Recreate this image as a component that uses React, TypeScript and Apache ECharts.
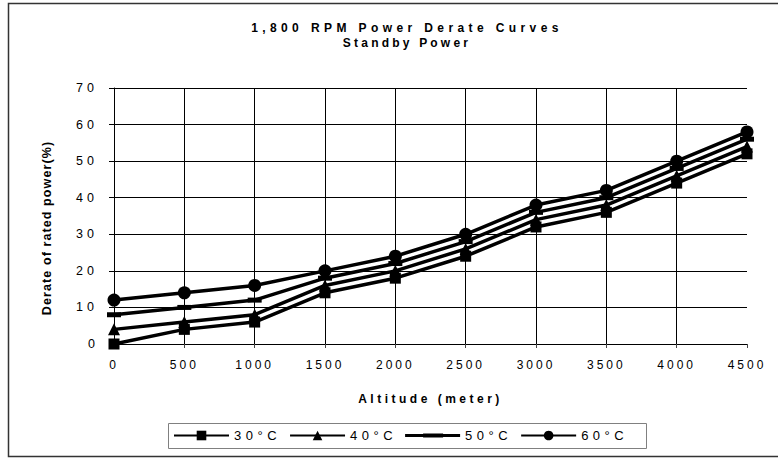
import React, { useEffect, useRef } from "react";
import * as echarts from "echarts";

const altitudes = [0, 500, 1000, 1500, 2000, 2500, 3000, 3500, 4000, 4500];
const seriesNames = ["30°C", "40°C", "50°C", "60°C"];
const derate30 = [0, 4, 6, 14, 18, 24, 32, 36, 44, 52];
const derate40 = [4, 6, 8, 16, 20, 26, 34, 38, 46, 54];
const derate50 = [8, 10, 12, 18, 22, 28, 36, 40, 48, 56];
const derate60 = [12, 14, 16, 20, 24, 30, 38, 42, 50, 58];

const titleLines = ["1,800 RPM Power Derate Curves", "Standby Power"];
const xTitle = "Altitude (meter)";
const yTitle = "Derate of rated power(%)";

export default function App() {
  const ref = useRef<HTMLDivElement>(null);
  useEffect(() => {
    if (!ref.current) return;
    const el = ref.current;
    const chart = echarts.init(el, null, { renderer: "svg" });
    const allData = [derate30, derate40, derate50, derate60];
    const symbols = ["rect", "triangle", "rect", "circle"];
    const sizes: any[] = [11, 12, [14, 5], 13];
    const vlineColors = altitudes.map((_, i) => (i === altitudes.length - 1 ? "rgba(0,0,0,0)" : "#000"));
    const font = "Liberation Sans, Arial, sans-serif";
    const dashIcon = "path://M0,4.6H55V7.4H0Z M18,4H38V8H18Z";
    chart.setOption({
      animation: false,
      backgroundColor: "#fff",
      textStyle: { fontFamily: font, color: "#000" },
      title: {
        text: titleLines.join("\n"),
        left: 402,
        textAlign: "center",
        top: 15,
        textStyle: { fontSize: 12, fontWeight: "bold", lineHeight: 15, color: "#000", fontFamily: font },
      },
      grid: { left: 114, right: 31, top: 88, bottom: 114, containLabel: false },
      xAxis: {
        type: "value",
        min: 0,
        max: 4500,
        interval: 500,
        name: xTitle,
        nameLocation: "middle",
        nameGap: 49,
        nameTextStyle: { fontSize: 12, fontWeight: "bold", color: "#000", fontFamily: font },
        axisLine: { show: true, lineStyle: { color: "#000", width: 1 } },
        axisTick: { show: true, length: 4, inside: false, lineStyle: { color: "#444" } },
        axisLabel: { fontSize: 12, color: "#000", margin: 15, fontFamily: font, formatter: (v: number) => String(v) },
        splitLine: { show: true, lineStyle: { color: vlineColors, width: 1 } },
      },
      yAxis: {
        type: "value",
        min: 0,
        max: 70,
        interval: 10,
        axisLine: { show: true, lineStyle: { color: "#000", width: 1 } },
        axisTick: { show: true, length: 5, lineStyle: { color: "#000" } },
        axisLabel: { fontSize: 12.5, color: "#000", margin: 16, fontFamily: font },
        splitLine: { show: true, lineStyle: { color: "#000", width: 1 } },
      },
      legend: {
        left: 165,
        top: 423,
        padding: [6, 8, 6, 8],
        borderWidth: 0,
        itemWidth: 55,
        itemHeight: 12,
        itemGap: 26,
        textStyle: { fontSize: 13, color: "#000", fontFamily: font },
        data: seriesNames.map((n, i) => (i === 2 ? { name: n, icon: dashIcon } : { name: n })),
      },
      graphic: [
        {
          type: "rect",
          shape: { x: 8.5, y: 3.5, width: 790, height: 453 },
          style: { fill: "none", stroke: "#333", lineWidth: 1.5 },
          silent: true,
        },
        {
          type: "rect",
          shape: { x: 168.5, y: 423.5, width: 478, height: 25 },
          style: { fill: "none", stroke: "#808080", lineWidth: 1 },
          silent: true,
        },
        {
          type: "text",
          x: 47,
          y: 228,
          rotation: Math.PI / 2,
          style: {
            text: yTitle,
            fill: "#000",
            fontSize: 12.5,
            fontWeight: "bold",
            fontFamily: font,
            textAlign: "center",
            textVerticalAlign: "middle",
          },
          silent: true,
        },
      ],
      series: seriesNames.map((name, si) => ({
        name,
        type: "line",
        data: altitudes.map((a, i) => [a, allData[si][i]]),
        symbol: symbols[si],
        symbolSize: sizes[si],
        showSymbol: true,
        lineStyle: { color: "#000", width: 3.5 },
        itemStyle: { color: "#000" },
        z: 3 + si,
      })),
    });
    const yLabels = ["0", "10", "20", "30", "40", "50", "60", "70"];
    const spacingFor = (t: string): number => {
      if (t === titleLines[0]) return 4.4;
      if (t === titleLines[1]) return 3.2;
      if (t === xTitle) return 3.5;
      if (t === yTitle) return 1.1;
      if (seriesNames.includes(t)) return 4.5;
      if (yLabels.includes(t) && t !== "0") return 4;
      if (/^\d+$/.test(t)) return 3;
      return 0;
    };
    const applySpacing = () => {
      el.querySelectorAll("text").forEach((node) => {
        const t = (node.textContent || "").trim();
        const s = spacingFor(t);
        if (s) (node as any).style.letterSpacing = s + "px";
      });
    };
    chart.on("finished", applySpacing);
    applySpacing();
    const raf = requestAnimationFrame(applySpacing);
    const tm = setTimeout(applySpacing, 50);
    return () => {
      cancelAnimationFrame(raf);
      clearTimeout(tm);
      chart.dispose();
    };
  }, []);
  return (
    <div
      ref={ref}
      style={{ position: "fixed", left: 0, top: 0, width: 778, height: 458 }}
    />
  );
}
